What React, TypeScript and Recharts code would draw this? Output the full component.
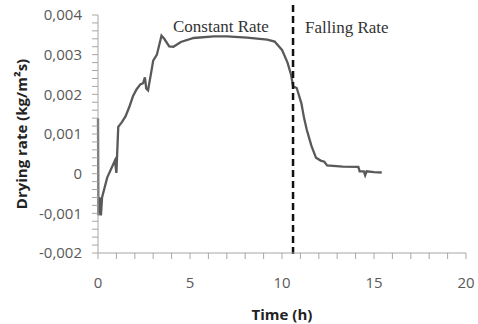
import React from 'react';
import { LineChart, Line, XAxis, YAxis, ReferenceLine, Customized } from 'recharts';

const times = [0, 0.02, 0.08, 0.12, 0.16, 0.22, 0.5, 0.92, 1.0, 1.1, 1.3, 1.5, 1.7, 1.9, 2.1, 2.3, 2.45, 2.55, 2.62, 2.72, 2.9, 3.0, 3.2, 3.45, 3.6, 3.87, 4.1, 4.5, 5.2, 6.3, 7.0, 8.1, 9.2, 9.6, 10.0, 10.3, 10.5, 10.6, 10.8, 11.05, 11.2, 11.35, 11.6, 11.85, 12.1, 12.3, 12.45, 13.3, 14.15, 14.22, 14.45, 14.52, 14.6, 15.0, 15.42];
const rates = [0.0014, -0.00105, -0.0006, -0.0007, -0.00105, -0.0006, -0.0001, 0.00033, 0.00002, 0.00118, 0.0013, 0.00145, 0.00168, 0.00195, 0.00213, 0.00225, 0.00228, 0.00243, 0.00215, 0.0021, 0.00258, 0.00285, 0.003, 0.00348, 0.0034, 0.00321, 0.0032, 0.00332, 0.00342, 0.00346, 0.00346, 0.00343, 0.00338, 0.00333, 0.00312, 0.0028, 0.00248, 0.0022, 0.00216, 0.00178, 0.0014, 0.0011, 0.0007, 0.0004, 0.00033, 0.0003, 0.00021, 0.00018, 0.00017, 0.00006, 0.00006, -0.00004, 0.00006, 0.00004, 0.00003];

const xTicks = [0, 1, 2, 3, 4, 5, 6, 7, 8, 9, 10, 11, 12, 13, 14, 15, 16, 17, 18, 19, 20];
const xMajor = [0, 5, 10, 15, 20];
const yTicks = [-0.002, -0.0018, -0.0016, -0.0014, -0.0012, -0.001, -0.0008, -0.0006, -0.0004, -0.0002, 0, 0.0002, 0.0004, 0.0006, 0.0008, 0.001, 0.0012, 0.0014, 0.0016, 0.0018, 0.002, 0.0022, 0.0024, 0.0026, 0.0028, 0.003, 0.0032, 0.0034, 0.0036, 0.0038, 0.004];
const yMajor = [-0.002, -0.001, 0, 0.001, 0.002, 0.003, 0.004];
const yMajorLabels = ['-0,002', '-0,001', '0', '0,001', '0,002', '0,003', '0,004'];
const boundaryTime = 10.6;

const data = times.map((t, i) => ({ t, r: rates[i] }));

const axisGray = '#a6a6a6';
const textGray = '#595959';
const sans = '"Open Sans", sans-serif';

const fmtX = (v: number) => (xMajor.indexOf(v) >= 0 ? String(v) : '');
const fmtY = (v: number) => {
  const idx = yMajor.findIndex((m) => Math.abs(m - v) < 1e-9);
  return idx >= 0 ? yMajorLabels[idx] : '';
};

const PhaseLabels = () => (
  <g>
    <text x={173} y={32} fontFamily='"Liberation Serif", "Times New Roman", serif' fontSize={17} fill="#333">
      Constant Rate
    </text>
    <text x={305} y={33} fontFamily='"Liberation Serif", "Times New Roman", serif' fontSize={17} fill="#333">
      Falling Rate
    </text>
  </g>
);

export default function App() {
  return (
    <div style={{ position: 'absolute', left: 0, top: 0, background: '#fff' }}>
      <LineChart width={478} height={324} data={data} margin={{ top: 15, right: 12, bottom: 0, left: 0 }}>
        <XAxis
          dataKey="t"
          type="number"
          domain={[0, 20]}
          ticks={xTicks}
          interval={0}
          tickFormatter={fmtX}
          stroke={axisGray}
          tickSize={6}
          tickMargin={18}
          height={71}
          tick={{ fill: textGray, fontSize: 15, fontFamily: sans }}
          label={{ value: 'Time (h)', position: 'insideBottom', offset: 4, fill: '#222', fontSize: 15, fontWeight: 'bold', fontFamily: sans }}
        />
        <YAxis
          type="number"
          domain={[-0.002, 0.004]}
          ticks={yTicks}
          interval={0}
          tickFormatter={fmtY}
          stroke={axisGray}
          tickSize={6}
          tickMargin={10}
          width={98}
          tick={{ fill: textGray, fontSize: 15, fontFamily: sans }}
          label={{ value: 'Drying rate (kg/m²s)', angle: -90, position: 'insideLeft', offset: 22, fill: '#222', fontSize: 15, fontWeight: 'bold', fontFamily: sans, style: { textAnchor: 'middle' } }}
        />
        <Line
          dataKey="r"
          type="linear"
          stroke="#595959"
          strokeWidth={2.3}
          dot={false}
          isAnimationActive={false}
        />
        <ReferenceLine
          segment={[{ x: boundaryTime, y: 0.00425 }, { x: boundaryTime, y: -0.0021 }]}
          stroke="#111"
          strokeWidth={2.5}
          strokeDasharray="7 4"
          ifOverflow="visible"
        />
        <Customized component={PhaseLabels} />
      </LineChart>
    </div>
  );
}
